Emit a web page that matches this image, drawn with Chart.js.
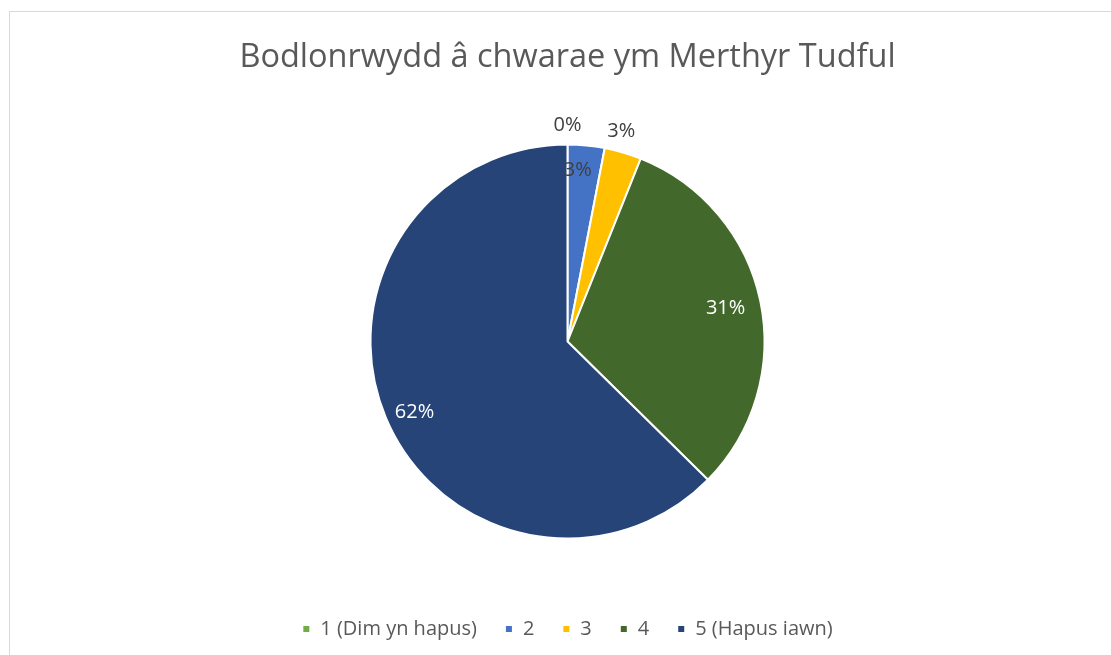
<!DOCTYPE html>
<html>
<head>
<meta charset="utf-8">
<script src="https://cdn.jsdelivr.net/npm/chart.js@4/dist/chart.umd.min.js"></script>
<style>
  html, body { margin: 0; padding: 0; background: #fff; overflow: hidden; }
  #frame { position: absolute; left: 9px; top: 11px; width: 1300px; height: 900px; border: 1px solid #d9d9d9; }
  #pie { position: absolute; left: 0; top: 0; }
</style>
</head>
<body>
<div id="frame"></div>
<canvas id="pie" width="1111" height="655"></canvas>
<script>
let categories = ["1 (Dim yn hapus)", "2", "3", "4", "5 (Hapus iawn)"];
let percents = [0, 3, 3, 31, 62];
let sliceColors = ["#70AD47", "#4472C4", "#FFC000", "#43682B", "#264478"];

// label placement: fraction of radius, angle nudge in degrees, colour
let labelRadius = [1.1, 0.87, 1.1, 0.82, 0.855];
let labelNudge = [0, -2, -2, 0, -2];
let labelColors = ["#404040", "#404040", "#404040", "#ffffff", "#ffffff"];

const font = "'Open Sans', sans-serif";

const pctLabels = {
    id: "pctLabels",
    afterDatasetsDraw(chart) {
        const ctx = chart.ctx;
        const arcs = chart.getDatasetMeta(0).data;
        ctx.save();
        ctx.font = "20px " + font;
        ctx.textAlign = "center";
        ctx.textBaseline = "middle";
        arcs.forEach((arc, i) => {
            const mid = (arc.startAngle + arc.endAngle) / 2 + labelNudge[i] * Math.PI / 180;
            const r = arc.outerRadius * labelRadius[i];
            ctx.fillStyle = labelColors[i];
            ctx.fillText(percents[i] + "%", arc.x + Math.cos(mid) * r, arc.y + Math.sin(mid) * r);
        });
        ctx.restore();
    },
};

new Chart(document.getElementById("pie"), {
    type: "pie",
    data: {
        labels: categories,
        datasets: [
            {
                data: percents,
                backgroundColor: sliceColors,
                borderColor: "#ffffff",
                borderWidth: 2,
                radius: 197,
            },
        ],
    },
    options: {
        responsive: false,
        animation: false,
        layout: { padding: { left: 24, right: 0, top: 0, bottom: 6 } },
        plugins: {
            title: {
                display: true,
                text: "Bodlonrwydd â chwarae ym Merthyr Tudful",
                color: "#595959",
                font: { family: font, size: 32.5, weight: "normal", lineHeight: 1.2 },
                padding: { top: 38, bottom: 15 },
            },
            legend: {
                position: "bottom",
                labels: {
                    color: "#595959",
                    font: { family: font, size: 20, lineHeight: 1.2 },
                    boxWidth: 8,
                    boxHeight: 8,
                    padding: 28,
                },
            },
            tooltip: { enabled: false },
        },
    },
    plugins: [pctLabels],
});
</script>
</body>
</html>
